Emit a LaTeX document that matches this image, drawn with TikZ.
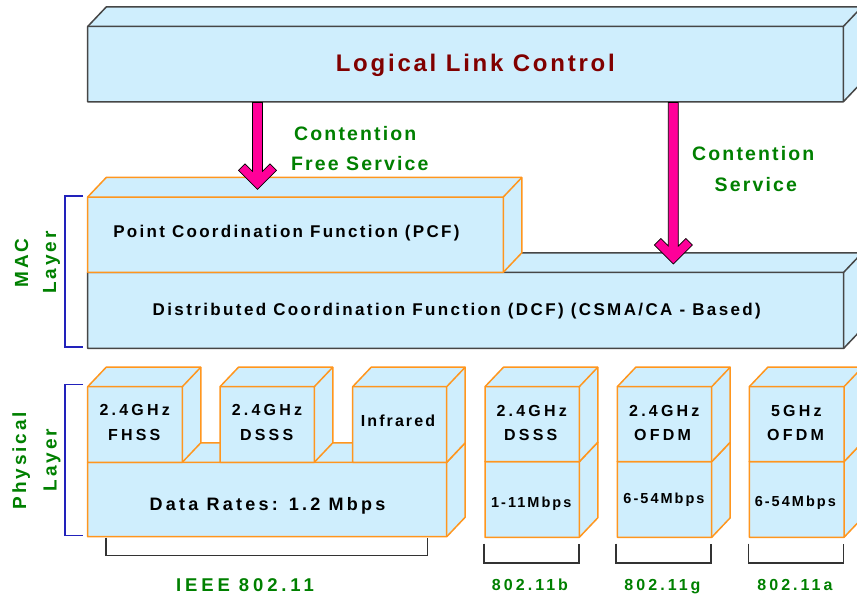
\documentclass[tikz,border=0pt]{standalone}
\usepackage{fontspec}
\setmainfont{Liberation Sans}

\definecolor{boxfill}{RGB}{207,238,253}
\definecolor{boxorange}{RGB}{255,150,30}
\definecolor{boxgray}{RGB}{70,70,70}
\definecolor{llcred}{RGB}{128,0,0}
\definecolor{lblgreen}{RGB}{0,128,0}
\definecolor{arrowpink}{RGB}{255,0,153}
\definecolor{brkblue}{RGB}{34,34,187}
\definecolor{brkgray}{RGB}{51,51,51}

% bold, letter-spaced text: size (pt), tracking (percent of size)
\newcommand\spfont[2]{\bfseries\fontsize{#1}{#1}\selectfont\addfontfeatures{LetterSpace=#2}}

% 3-D block: left, top, right, bottom, edge colour
\newcommand\drawcuboid[5]{%
  \path[fill=boxfill, draw=#5, line width=1.5pt, line join=round]
    (#1,#2) -- ++(18.5,-19.5) -- (#3+18.5,#2-19.5) -- (#3+18.5,#4-19.5)
    -- (#3,#4) -- (#1,#4) -- cycle;
  \draw[#5, line width=1.5pt, line join=round]
    (#1,#2) -- (#3,#2) -- (#3,#4) (#3,#2) -- ++(18.5,-19.5);
}

% service arrow with a chevron head: centre x, top y, tip y
\newcommand\chevron[3]{%
  \filldraw[fill=arrowpink, draw=black, line width=0.7pt, line join=miter]
    (#1-5,#2) -- (#1-5,#3-18) -- (#1-12.5,#3-25.5) -- (#1-19,#3-19) -- (#1,#3)
    -- (#1+19,#3-19) -- (#1+12.5,#3-25.5) -- (#1+5,#3-18) -- (#1+5,#2) -- cycle;
}

\tikzset{
  lbl/.style 2 args={font=\spfont{#1}{#2}, inner sep=0pt, anchor=base},
  brk/.style={line width=1.3pt},
}

\begin{document}
\begin{tikzpicture}[x=1pt,y=-1pt]
\useasboundingbox (0,0) rectangle (857,599);
\clip (0,0) rectangle (857,599);
\fill[white] (0,0) rectangle (857,599);

% ---- LLC and MAC layer blocks
\drawcuboid{87.7}{26.5}{843.3}{101.8}{boxgray}
\drawcuboid{87.7}{272.3}{843.7}{348.3}{boxgray}
\drawcuboid{87.7}{197}{503.3}{272.3}{boxorange}

% ---- IEEE 802.11 physical blocks
\drawcuboid{87.7}{462.3}{446.7}{536.7}{boxorange}
\drawcuboid{87.7}{386.7}{182.3}{462.3}{boxorange}
\drawcuboid{220}{386.7}{314.3}{462.3}{boxorange}
\drawcuboid{352.7}{386.7}{446.7}{462.3}{boxorange}

% ---- 802.11b / g / a stacks
\drawcuboid{485}{461.7}{579.3}{537.3}{boxorange}
\drawcuboid{485}{386.7}{579.3}{461.7}{boxorange}
\drawcuboid{617.3}{461.7}{711.7}{537.3}{boxorange}
\drawcuboid{617.3}{386.7}{711.7}{461.7}{boxorange}
\drawcuboid{749.3}{461.7}{844}{537.3}{boxorange}
\drawcuboid{749.3}{386.7}{844}{461.7}{boxorange}

% ---- service arrows
\chevron{257.5}{102.6}{189.3}
\chevron{673.3}{102.6}{264}

% ---- layer brackets
\draw[brk, brkblue] (83,196) -- (65,196) -- (65,347) -- (83,347);
\draw[brk, brkblue] (83,384.5) -- (65,384.5) -- (65,535.5) -- (83,535.5);

% ---- standard brackets
\draw[brk, brkgray] (106,537.5) -- (106,555.7) -- (427.7,555.7) -- (427.7,537.5);
\draw[brk, brkgray] (484,543.5) -- (484,563) -- (579,563) -- (579,543.5);
\draw[brk, brkgray] (616,543.5) -- (616,563) -- (711,563) -- (711,543.5);
\draw[brk, brkgray] (748.7,543.5) -- (748.7,563) -- (843.3,563) -- (843.3,543.5);

% ---- texts
\node[lbl={24}{11.5}, text=llcred] (llc) at (475.3,71.3) {Logical Link Control};

\node[lbl={19.5}{11}, text=lblgreen] (cf1) at (355.3,140.3) {Contention};
\node[lbl={19.5}{11}, text=lblgreen] (cf2) at (359.8,170.3) {Free Service};
\node[lbl={19.5}{11}, text=lblgreen] (cs1) at (753.3,160.7) {Contention};
\node[lbl={19.5}{11}, text=lblgreen] (cs2) at (755.8,191.3) {Service};

\node[lbl={17}{13.5}] (pcf) at (286.4,237.3) {Point Coordination Function (PCF)};
\node[lbl={17}{14}] (dcf) at (456.8,315) {Distributed Coordination Function (DCF) (CSMA/CA - Based)};

\node[lbl={19}{15}, text=lblgreen, rotate=90] (mac1) at (28,263) {MAC};
\node[lbl={19}{15}, text=lblgreen, rotate=90] (mac2) at (56,262.5) {Layer};
\node[lbl={19}{15}, text=lblgreen, rotate=90] (phy1) at (26,460.5) {Physical};
\node[lbl={19}{15}, text=lblgreen, rotate=90] (phy2) at (56.5,460) {Layer};

\node[lbl={16}{20}] (fh1) at (134.7,415.7) {2.4GHz};
\node[lbl={16}{20}] (fh2) at (134.2,440) {FHSS};
\node[lbl={16}{20}] (ds1) at (267,415.7) {2.4GHz};
\node[lbl={16}{20}] (ds2) at (266.7,440) {DSSS};
\node[lbl={16}{13}] (ir) at (398,426.7) {Infrared};
\node[lbl={18}{18}] (rate) at (267.5,510) {Data Rates: 1.2 Mbps};

\node[lbl={16}{20}] (b1) at (531.7,416) {2.4GHz};
\node[lbl={16}{20}] (b2) at (530.8,440) {DSSS};
\node[lbl={16}{20}] (g1) at (664.3,416) {2.4GHz};
\node[lbl={16}{20}] (g2) at (662.5,440) {OFDM};
\node[lbl={16}{20}] (a1) at (796.3,416) {5GHz};
\node[lbl={16}{20}] (a2) at (795.5,440) {OFDM};

\node[lbl={14.5}{14}] (brate) at (531.3,507.7) {1-11Mbps};
\node[lbl={14.5}{14}] (grate) at (664,503.3) {6-54Mbps};
\node[lbl={14.5}{14}] (arate) at (795.3,506.7) {6-54Mbps};

\node[lbl={18.5}{21}, text=lblgreen] (std) at (245,591.7) {IEEE 802.11};
\node[lbl={16}{19}, text=lblgreen] (stdb) at (530,590) {802.11b};
\node[lbl={16}{19}, text=lblgreen] (stdg) at (662.5,590) {802.11g};
\node[lbl={16}{19}, text=lblgreen] (stda) at (795,590) {802.11a};
\end{tikzpicture}
\end{document}
